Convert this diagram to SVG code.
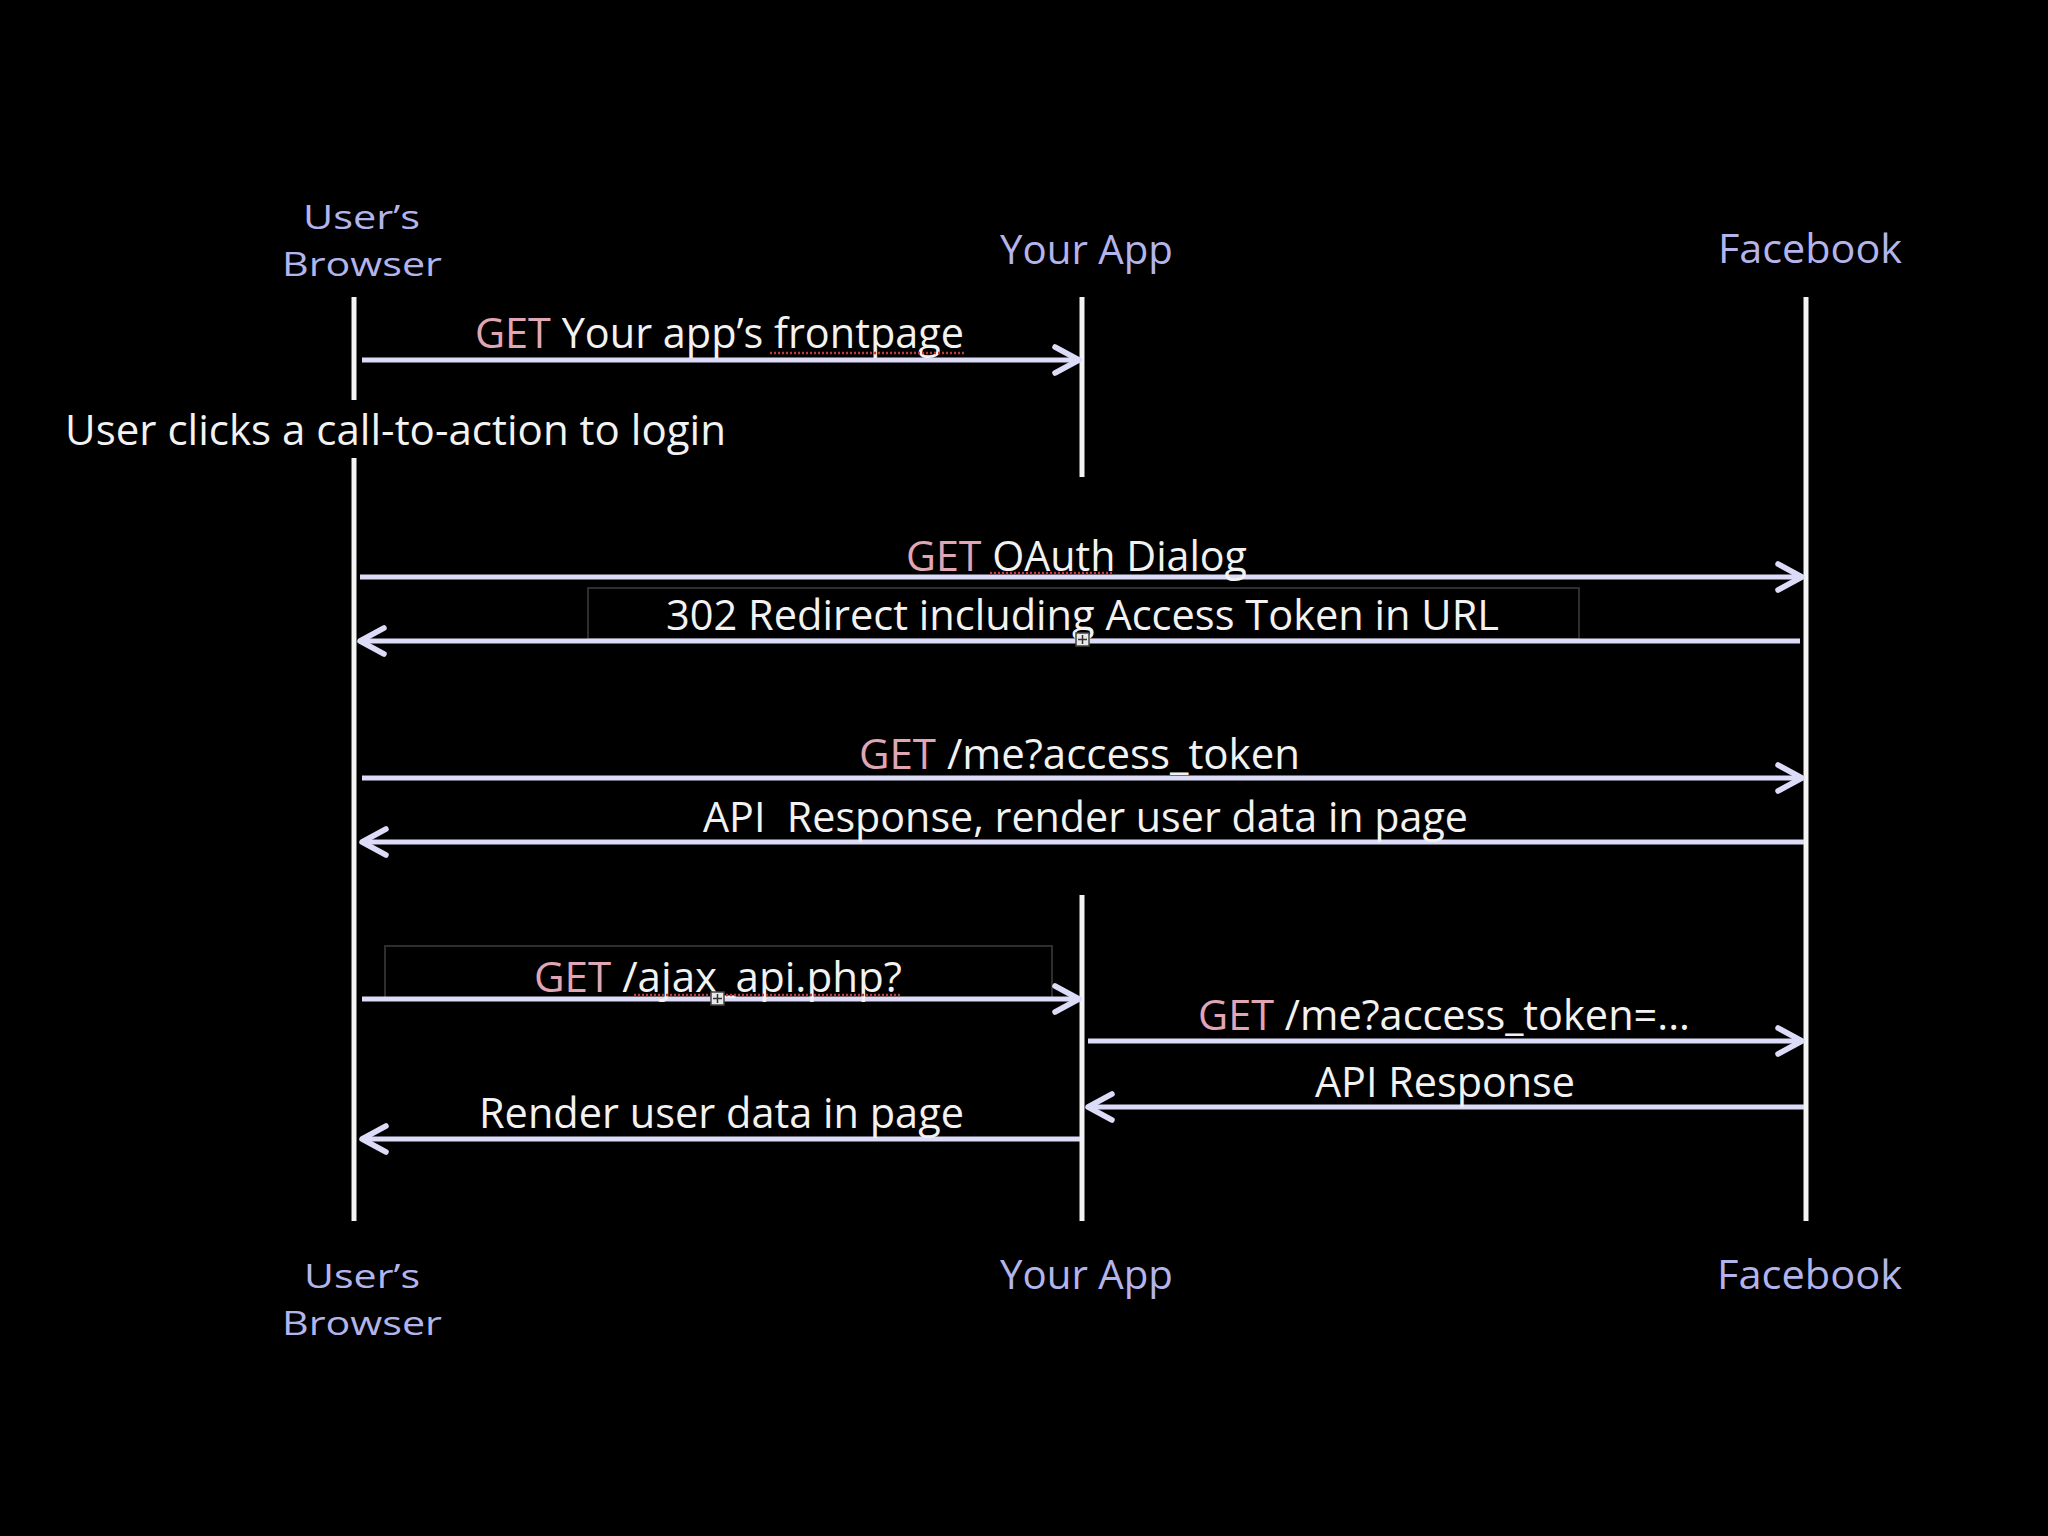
<svg xmlns="http://www.w3.org/2000/svg" width="2048" height="1536" viewBox="0 0 2048 1536">
<defs>
<style>
.bg{fill:#000}
.life{stroke:#f4f4f4;stroke-width:5;fill:none}
.msg{stroke:#dcdcf8;stroke-width:5;fill:none;marker-end:url(#ah)}
.part{font-family:"Open Sans","Noto Sans",sans-serif;font-size:40px;fill:#b4b4ec}
.two{font-size:33px}
.lbl{font-family:"Open Sans","Noto Sans",sans-serif;font-size:42px;fill:#f2f2f2}
.get{fill:#e0a6b6}
.box{fill:none;stroke:#2e2e2e;stroke-width:2}
.sq{stroke:#c23a3a;stroke-width:2.5;stroke-dasharray:2 2;fill:none}
.ico{fill:#e8e8e8;stroke:#444;stroke-width:1.5}
.icx{stroke:#333;stroke-width:1.5}
</style>
<marker id="ah" markerUnits="userSpaceOnUse" viewBox="-32 -20 40 40" markerWidth="40" markerHeight="40" refX="0" refY="0" orient="auto">
<path d="M-24,-13 L0,0 L-24,13" fill="none" stroke="#dcdcf8" stroke-width="5.5" stroke-linecap="round" stroke-linejoin="round"/>
</marker>
</defs>
<rect class="bg" x="0" y="0" width="2048" height="1536"/>

<g id="browser">
<text class="part two" x="303" y="229" textLength="117" lengthAdjust="spacingAndGlyphs">User’s</text>
<text class="part two" x="282" y="276" textLength="160" lengthAdjust="spacingAndGlyphs">Browser</text>
<line class="life" x1="354" y1="297" x2="354" y2="400"/>
<line class="life" x1="354" y1="458" x2="354" y2="1221"/>
<text class="part two" x="304" y="1288" textLength="116" lengthAdjust="spacingAndGlyphs">User’s</text>
<text class="part two" x="282" y="1335" textLength="160" lengthAdjust="spacingAndGlyphs">Browser</text>
</g>

<g id="yourapp">
<text class="part" x="1000" y="264" textLength="173" lengthAdjust="spacingAndGlyphs">Your App</text>
<line class="life" x1="1082" y1="297" x2="1082" y2="477"/>
<line class="life" x1="1082" y1="895" x2="1082" y2="1221"/>
<text class="part" x="1000" y="1289" textLength="173" lengthAdjust="spacingAndGlyphs">Your App</text>
</g>

<g id="facebook">
<text class="part" x="1718" y="263" textLength="184" lengthAdjust="spacingAndGlyphs">Facebook</text>
<line class="life" x1="1806" y1="297" x2="1806" y2="1221"/>
<text class="part" x="1717" y="1289" textLength="185" lengthAdjust="spacingAndGlyphs">Facebook</text>
</g>

<g id="note">
<text class="lbl" x="65" y="445" textLength="661" lengthAdjust="spacingAndGlyphs">User clicks a call-to-action to login</text>
</g>

<g id="connectors">
<rect class="box" x="588" y="588" width="991" height="51"/>
<rect class="box" x="385" y="946" width="667" height="53"/>

<line class="msg" x1="362" y1="360" x2="1079" y2="360"/>
<text class="lbl" x="475" y="348" textLength="489" lengthAdjust="spacingAndGlyphs"><tspan class="get">GET</tspan> Your app’s frontpage</text>
<line class="sq" x1="770" y1="353" x2="964" y2="353"/>

<line class="msg" x1="360" y1="577" x2="1802" y2="577"/>
<text class="lbl" x="906" y="571" textLength="341" lengthAdjust="spacingAndGlyphs"><tspan class="get">GET</tspan> OAuth Dialog</text>
<line class="sq" x1="990" y1="573" x2="1112" y2="573"/>

<line class="msg" x1="1800" y1="641" x2="360" y2="641"/>
<text class="lbl" x="666" y="630" textLength="833" lengthAdjust="spacingAndGlyphs">302 Redirect including Access Token in URL</text>

<line class="msg" x1="362" y1="778" x2="1802" y2="778"/>
<text class="lbl" x="859" y="769" textLength="441" lengthAdjust="spacingAndGlyphs"><tspan class="get">GET</tspan> /me?access_token</text>

<line class="msg" x1="1804" y1="842" x2="362" y2="842"/>
<text class="lbl" x="703" y="832" textLength="765" lengthAdjust="spacingAndGlyphs" xml:space="preserve">API  Response, render user data in page</text>

<line class="msg" x1="362" y1="999" x2="1079" y2="999"/>
<text class="lbl" x="534" y="992" textLength="368" lengthAdjust="spacingAndGlyphs"><tspan class="get">GET</tspan> /ajax_api.php?</text>
<line class="sq" x1="634" y1="995" x2="902" y2="995"/>

<line class="msg" x1="1088" y1="1041" x2="1802" y2="1041"/>
<text class="lbl" x="1198" y="1030" textLength="492" lengthAdjust="spacingAndGlyphs"><tspan class="get">GET</tspan> /me?access_token=...</text>

<line class="msg" x1="1804" y1="1107" x2="1088" y2="1107"/>
<text class="lbl" x="1315" y="1097" textLength="260" lengthAdjust="spacingAndGlyphs">API Response</text>

<line class="msg" x1="1080" y1="1139" x2="362" y2="1139"/>
<text class="lbl" x="479" y="1128" textLength="485" lengthAdjust="spacingAndGlyphs">Render user data in page</text>

<rect class="ico" x="1076" y="633" width="13" height="13"/>
<line class="icx" x1="1082.5" y1="635" x2="1082.5" y2="644"/>
<line class="icx" x1="1078" y1="639.5" x2="1087" y2="639.5"/>
<rect class="ico" x="711" y="992" width="13" height="13"/>
<line class="icx" x1="717.5" y1="994" x2="717.5" y2="1003"/>
<line class="icx" x1="713" y1="998.5" x2="722" y2="998.5"/>
</g>
</svg>
